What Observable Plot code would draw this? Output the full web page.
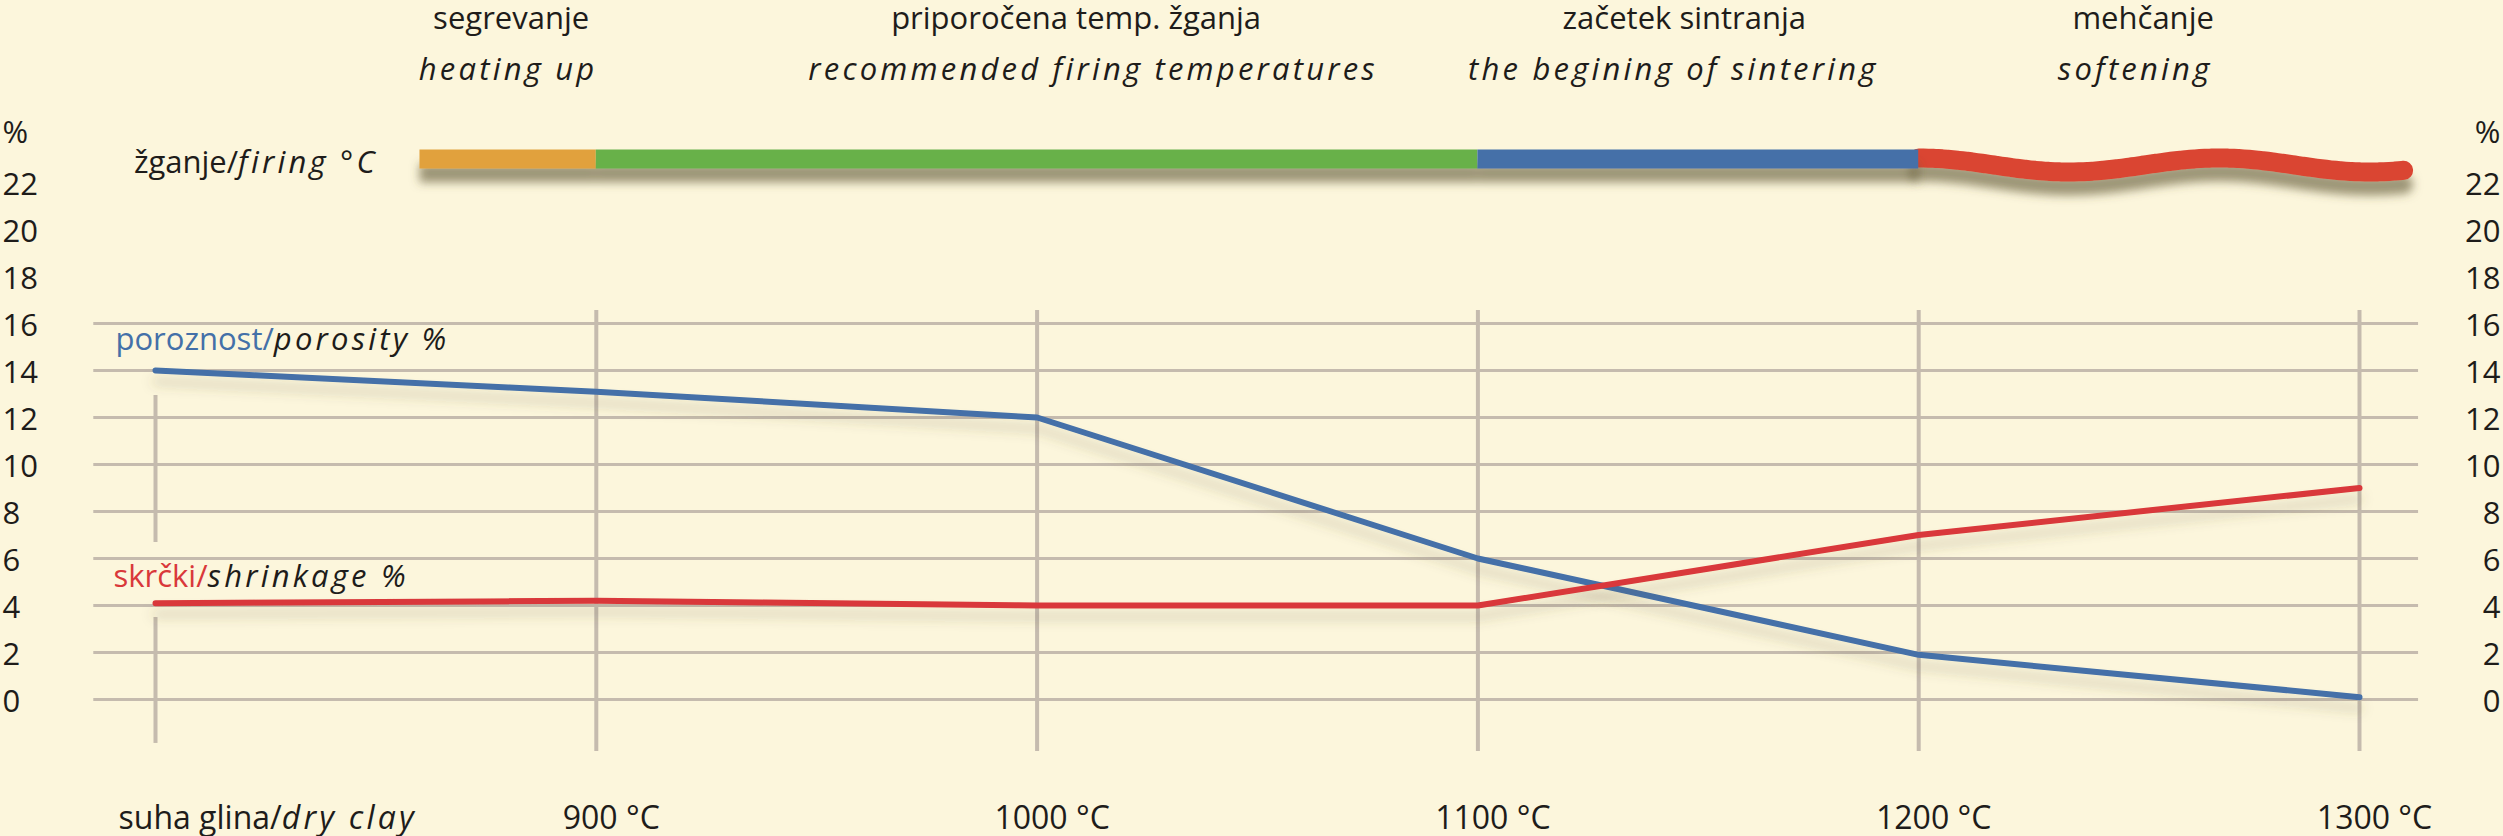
<!DOCTYPE html>
<html>
<head>
<meta charset="utf-8">
<script src="https://cdn.jsdelivr.net/npm/d3@7"></script>
<script src="https://cdn.jsdelivr.net/npm/@observablehq/plot@0.6"></script>
<style>
  html, body { margin: 0; padding: 0; background: #FCF6DC; }
  #chart svg { display: block; }
</style>
</head>
<body>
<div id="chart"></div>
<script>
// ---------- data ----------
const categories = ["suha glina/|dry clay", "900 °C", "1000 °C", "1100 °C", "1200 °C", "1300 °C"];
const porosity   = [14, 13.1, 12, 6, 1.9, 0.1];
const shrinkage  = [4.1, 4.2, 4, 4, 7, 9];
const seriesLabels = ["poroznost/|porosity %", "skrčki/|shrinkage %"];
const yTickLabels = [0, 2, 4, 6, 8, 10, 12, 14, 16, 18, 20, 22];
const gridValues  = [0, 2, 4, 6, 8, 10, 12, 14, 16];
const unitLabel = "%";
const firingLabel = "žganje/|firing °C";
const phaseNames   = ["segrevanje", "priporočena temp. žganja", "začetek sintranja", "mehčanje"];
const phaseNamesEn = ["heating up", "recommended firing temperatures", "the begining of sintering", "softening"];
// phase extent along the temperature axis (category index units)
const phaseFrom = [0.6, 1, 3, 4];
const phaseTo   = [1, 3, 4, 5.1];

// ---------- styles / layout ----------
const W = 2503, H = 836;
const BG = "#FCF6DC", INK = "#1E1C1A", GRID = "#C5BBAE";
const BLUE = "#4470A8", RED = "#D9383A";
const phaseColors = ["#E1A13C", "#67B14A", "#4470A8", "#DA4432"];
const FONT = "'Open Sans', 'Noto Sans', sans-serif";
const X_RANGE = [155, 2359], Y_RANGE = [699, 323];
const PXU = (Y_RANGE[0] - Y_RANGE[1]) / 16;       // px per % unit
const PXI = (X_RANGE[1] - X_RANGE[0]) / 5;        // px per category step
const BAR_Y = 23;
const UNIT_Y = 24.1;
const ITALIC_SPACING = "3.2px";

const rows = categories.map((c, i) => ({i, porosity: porosity[i], shrinkage: shrinkage[i]}));
const idx = d3.range(categories.length);

// decorative wavy "softening" strip
const s = 3;
const wave = d3.range(0, 1.0001, 0.01).map(t => ({
  x: phaseFrom[s] + t * (phaseTo[s] - phaseFrom[s]),
  y: BAR_Y - (6 - 7 * Math.cos(2 * Math.PI * t / 0.62)) / PXU
}));

const nameDx = [3, 39, -14, -18];
const enDx   = [0, 56, -25, -26];

const plot = Plot.plot({
  width: W, height: H,
  marginLeft: 0, marginRight: 0, marginTop: 0, marginBottom: 0,
  x: {domain: [0, 5], range: X_RANGE, axis: null},
  y: {domain: [0, 16], range: Y_RANGE, axis: null},
  color: {type: "identity"},
  style: {background: BG, fontFamily: FONT, overflow: "visible"},
  marks: [
    // horizontal grid
    Plot.ruleY(gridValues, {x1: -0.14, x2: 5.134, stroke: GRID, strokeWidth: 3}),
    // vertical category lines
    Plot.ruleX(idx.slice(1), {y1: 16.55, y2: -2.21, stroke: GRID, strokeWidth: 4}),
    Plot.ruleX([{a: 12.94, b: 6.68}, {a: 3.49, b: -1.87}], {x: () => 0, y1: "a", y2: "b", stroke: GRID, strokeWidth: 4}),
    // series lines
    Plot.line(rows, {x: "i", y: "porosity", stroke: BLUE, strokeWidth: 6, strokeLinecap: "round", strokeLinejoin: "round"}),
    Plot.line(rows, {x: "i", y: "shrinkage", stroke: RED, strokeWidth: 6, strokeLinecap: "round", strokeLinejoin: "round"}),
    // firing strip
    Plot.line(wave, {x: "x", y: "y", stroke: phaseColors[3], strokeWidth: 19, strokeLinecap: "round", curve: "natural"}),
    Plot.ruleY([0, 1, 2], {x1: i => phaseFrom[i], x2: i => phaseTo[i], y: () => BAR_Y, stroke: i => phaseColors[i], strokeWidth: 19}),
    // firing label
    Plot.text([firingLabel], {x: () => phaseFrom[0], y: () => BAR_Y, text: d => d, textAnchor: "end", dx: -42, dy: 4, fontSize: 31, fill: INK}),
    // phase labels
    Plot.text(d3.range(4), {x: i => (phaseFrom[i] + phaseTo[i]) / 2 + nameDx[i] / PXI, text: i => phaseNames[i], frameAnchor: "top", lineAnchor: "bottom", dy: 28, fontSize: 31, fill: INK}),
    Plot.text(d3.range(4), {x: i => (phaseFrom[i] + phaseTo[i]) / 2 + enDx[i] / PXI, text: i => phaseNamesEn[i], frameAnchor: "top", lineAnchor: "bottom", dy: 79, fontSize: 31, fill: INK, fontStyle: "italic"}),
    // series labels
    Plot.text([0], {x: () => 0, y: () => porosity[0], text: () => seriesLabels[0], textAnchor: "start", lineAnchor: "bottom", dx: -40, dy: -21, fontSize: 31, fill: BLUE}),
    Plot.text([0], {x: () => 0, y: () => shrinkage[0], text: () => seriesLabels[1], textAnchor: "start", lineAnchor: "bottom", dx: -42, dy: -16, fontSize: 31, fill: RED}),
    // x category labels
    Plot.text(idx.slice(1), {x: i => i, text: i => categories[i], frameAnchor: "bottom", lineAnchor: "bottom", dy: -8, dx: 15, fontSize: 32, fill: INK}),
    Plot.text([0], {x: () => 0, text: () => categories[0], frameAnchor: "bottom", lineAnchor: "bottom", dy: -8, dx: -37, textAnchor: "start", fontSize: 32, fill: INK}),
    // y labels left / right
    Plot.text(yTickLabels, {y: d => d, text: d => String(d), frameAnchor: "left", textAnchor: "start", dx: 2, dy: 3, fontSize: 31, fill: INK}),
    Plot.text(yTickLabels, {y: d => d, text: d => String(d), frameAnchor: "right", textAnchor: "end", dx: -3, dy: 3, fontSize: 31, fill: INK}),
    Plot.text([unitLabel], {y: () => UNIT_Y, text: d => d, frameAnchor: "left", textAnchor: "start", dx: 2, fontSize: 31, fill: INK}),
    Plot.text([unitLabel], {y: () => UNIT_Y, text: d => d, frameAnchor: "right", textAnchor: "end", dx: -3, fontSize: 31, fill: INK})
  ]
});

// ---------- post-processing: shadows and mixed-style labels ----------
const svg = d3.select(plot);
const defs = svg.insert("defs", ":first-child");
function shadow(id, dy, sd, op) {
  const f = defs.append("filter").attr("id", id)
    .attr("filterUnits", "userSpaceOnUse").attr("x", -50).attr("y", -50).attr("width", W + 100).attr("height", H + 100);
  f.append("feDropShadow").attr("dx", 0).attr("dy", dy).attr("stdDeviation", sd)
    .attr("flood-color", "#5E5535").attr("flood-opacity", op);
}
shadow("sh-bar", 14, 5, 0.6);
shadow("sh-line", 11, 6, 0.25);
svg.selectAll("g[stroke-width='19']").attr("filter", "url(#sh-bar)");
svg.selectAll("g[aria-label='line'][stroke-width='6']").attr("filter", "url(#sh-line)");
svg.selectAll("g[font-style='italic'] text").attr("letter-spacing", ITALIC_SPACING);

svg.selectAll("text").each(function() {
  const t = this.textContent;
  if (!t.includes("|")) return;
  const [a, b] = t.split("|");
  const el = d3.select(this);
  el.text("");
  el.append("tspan").text(a);
  el.append("tspan").text(b).attr("font-style", "italic").attr("fill", INK).attr("letter-spacing", ITALIC_SPACING);
});

document.getElementById("chart").appendChild(plot);
</script>
</body>
</html>
